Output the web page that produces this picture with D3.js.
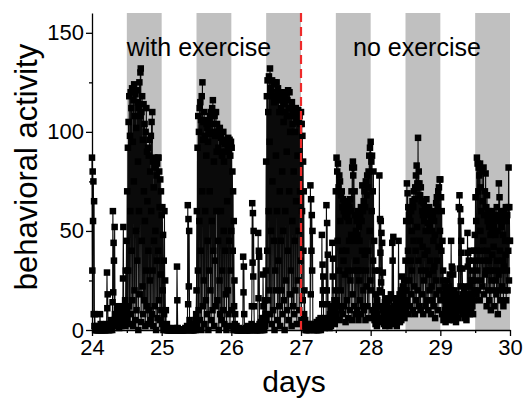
<!DOCTYPE html>
<html>
<head>
<meta charset="utf-8">
<script src="https://cdn.jsdelivr.net/npm/d3@7"></script>
<style>
  body { margin: 0; background: #fff; }
  svg { display: block; font-family: Arial, "Liberation Sans", sans-serif; }
</style>
</head>
<body>
<svg id="chart"></svg>
<script>
// chart size
const width = 523, height = 400;
const margin = { top: 13, right: 13, bottom: 70, left: 92 };

// activity counts, one value every 0.005 day, one array per day
const day24 = [87, 30, 80, 55, 75, 8, 65, 2, 8, 0,
  0, 1, 0, 0, 2, 0, 0, 0, 1, 0,
  0, 0, 1, 8, 0, 3, 0, 0, 0, 1,
  0, 0, 0, 2, 0, 0, 1, 0, 0, 0,
  0, 2, 3, 29, 11, 18, 0, 1, 0, 2,
  0, 3, 1, 0, 2, 5, 1, 3, 0, 14,
  60, 19, 44, 35, 5, 52, 8, 3, 6, 2,
  8, 4, 10, 3, 12, 5, 2, 9, 1, 6,
  10, 3, 7, 12, 2, 8, 4, 11, 3, 26,
  52, 6, 9, 12, 4, 15, 2, 30, 8, 45,
  10, 70, 5, 92, 30, 105, 12, 118, 3, 98,
  60, 120, 8, 112, 40, 122, 15, 95, 2, 116,
  75, 124, 20, 108, 5, 119, 50, 102, 10, 121,
  35, 115, 85, 0, 112, 60, 125, 18, 108, 130,
  132, 4, 110, 45, 118, 22, 96, 8, 114, 70,
  15, 104, 55, 2, 100, 30, 112, 12, 90, 65,
  3, 92, 40, 88, 10, 96, 25, 80, 5, 98,
  60, 105, 8, 110, 30, 85, 2, 72, 45, 87,
  12, 82, 50, 86, 0, 78, 35, 84, 6, 87,
  40, 87, 15, 80, 62, 5, 76, 28, 70, 10];
const day25 = [58, 3, 62, 20, 48, 0, 35, 8, 60, 2,
  25, 0, 10, 1, 0, 3, 0, 0, 1, 0,
  0, 0, 0, 0, 0, 0, 0, 0, 0, 0,
  0, 0, 0, 0, 0, 1, 0, 0, 0, 0,
  0, 0, 0, 0, 32, 15, 1, 0, 0, 0,
  0, 0, 0, 0, 0, 0, 0, 0, 0, 0,
  0, 0, 0, 0, 0, 0, 0, 0, 1, 0,
  0, 0, 0, 2, 0, 63, 13, 56, 22, 50,
  5, 0, 1, 0, 0, 0, 0, 2, 0, 0,
  0, 1, 0, 0, 3, 0, 1, 5, 0, 8,
  20, 60, 2, 92, 30, 108, 10, 100, 55, 112,
  5, 115, 40, 106, 0, 118, 70, 125, 12, 96,
  105, 25, 110, 3, 98, 60, 106, 15, 88, 104,
  8, 102, 45, 95, 0, 105, 30, 99, 70, 108,
  20, 110, 5, 104, 55, 112, 10, 116, 40, 100,
  85, 2, 108, 35, 98, 12, 110, 60, 90, 104,
  15, 100, 45, 92, 0, 98, 25, 102, 8, 90,
  60, 97, 5, 88, 30, 95, 10, 100, 50, 85,
  3, 94, 40, 96, 18, 90, 0, 95, 65, 92,
  20, 97, 8, 90, 45, 96, 2, 88, 30, 95];
const day26 = [50, 92, 10, 80, 40, 70, 0, 55, 12, 25,
  3, 8, 0, 1, 0, 2, 0, 0, 0, 0,
  0, 0, 1, 0, 0, 0, 0, 0, 0, 0,
  0, 0, 0, 0, 37, 19, 32, 8, 0, 0,
  0, 0, 1, 0, 0, 0, 0, 0, 2, 0,
  0, 0, 0, 0, 0, 1, 0, 0, 3, 12,
  64, 34, 59, 27, 50, 12, 1, 0, 0, 0,
  0, 2, 0, 0, 0, 0, 0, 49, 16, 40,
  37, 3, 0, 1, 0, 4, 2, 0, 6, 1,
  0, 28, 12, 3, 0, 6, 15, 2, 8, 30,
  85, 5, 118, 40, 126, 15, 110, 60, 128, 20,
  95, 132, 8, 122, 50, 120, 3, 126, 75, 118,
  10, 124, 45, 115, 0, 125, 30, 118, 88, 20,
  125, 60, 120, 5, 122, 35, 116, 12, 110, 70,
  2, 118, 45, 112, 20, 116, 80, 8, 120, 50,
  105, 15, 114, 0, 110, 60, 118, 25, 108, 90,
  10, 116, 40, 121, 5, 112, 70, 120, 18, 100,
  112, 30, 108, 2, 115, 55, 104, 12, 110, 80,
  8, 108, 45, 100, 20, 112, 65, 105, 3, 110,
  88, 25, 111, 50, 105, 10, 108, 70, 104, 35];
const day27 = [110, 5, 104, 60, 98, 15, 85, 40, 70, 8,
  20, 2, 5, 0, 1, 3, 0, 0, 2, 1,
  0, 3, 1, 0, 2, 0, 1, 73, 18, 66,
  40, 58, 30, 50, 3, 1, 0, 2, 0, 1,
  3, 0, 2, 1, 0, 4, 0, 1, 2, 0,
  1, 5, 0, 3, 1, 2, 6, 0, 2, 3,
  48, 13, 33, 20, 27, 4, 2, 5, 1, 3,
  6, 2, 4, 63, 20, 54, 13, 38, 5, 2,
  3, 6, 1, 8, 4, 10, 2, 7, 5, 12,
  44, 27, 36, 8, 12, 5, 15, 3, 20, 10,
  70, 8, 87, 15, 80, 45, 84, 12, 72, 30,
  78, 5, 75, 55, 20, 68, 10, 70, 40, 62,
  8, 66, 35, 60, 12, 65, 28, 58, 4, 62,
  40, 60, 15, 57, 30, 64, 6, 55, 45, 62,
  10, 66, 25, 60, 48, 70, 5, 82, 18, 85,
  78, 30, 82, 12, 70, 45, 58, 8, 50, 35,
  55, 10, 48, 30, 60, 5, 52, 25, 45, 15,
  58, 30, 62, 8, 55, 40, 73, 12, 60, 20,
  65, 10, 70, 38, 62, 5, 75, 30, 68, 22,
  78, 12, 72, 40, 80, 6, 88, 50, 92, 25];
const day28 = [95, 20, 85, 60, 88, 10, 70, 35, 80, 8,
  45, 5, 30, 12, 3, 18, 6, 10, 2, 15,
  8, 4, 12, 6, 30, 78, 20, 56, 39, 55,
  24, 49, 19, 44, 10, 29, 6, 12, 3, 9,
  5, 14, 2, 8, 16, 4, 10, 3, 12, 6,
  9, 3, 15, 7, 2, 11, 5, 8, 18, 4,
  10, 6, 44, 35, 16, 47, 8, 4, 12, 6,
  3, 9, 14, 5, 11, 2, 8, 16, 6, 10,
  45, 12, 7, 18, 4, 13, 9, 20, 5, 15,
  27, 14, 22, 8, 18, 11, 25, 6, 20, 12,
  35, 10, 55, 20, 74, 15, 69, 40, 62, 8,
  58, 25, 61, 12, 55, 35, 60, 18, 50, 30,
  65, 10, 62, 45, 70, 22, 66, 8, 72, 40,
  78, 15, 83, 52, 74, 20, 97, 35, 80, 12,
  74, 45, 68, 10, 72, 30, 65, 18, 60, 42,
  58, 8, 64, 25, 55, 38, 62, 12, 50, 30,
  66, 15, 60, 40, 54, 10, 58, 28, 62, 20,
  52, 35, 60, 8, 56, 22, 50, 15, 58, 30,
  45, 12, 55, 32, 48, 6, 60, 25, 64, 18,
  67, 35, 62, 10, 70, 42, 72, 20, 76, 50];
const day29 = [76, 15, 67, 40, 60, 8, 45, 25, 30, 5,
  18, 6, 22, 10, 15, 4, 12, 20, 8, 14,
  25, 6, 18, 12, 22, 5, 15, 28, 10, 20,
  12, 45, 20, 32, 8, 31, 14, 28, 5, 18,
  9, 20, 6, 15, 12, 4, 18, 8, 14, 10,
  6, 16, 10, 62, 15, 68, 31, 61, 22, 55,
  45, 39, 12, 31, 18, 8, 15, 10, 20, 6,
  12, 18, 8, 22, 14, 5, 16, 10, 49, 32,
  39, 18, 35, 12, 22, 8, 40, 15, 25, 10,
  18, 30, 12, 25, 8, 35, 15, 40, 20, 48,
  25, 67, 18, 55, 40, 87, 30, 84, 20, 70,
  82, 35, 78, 15, 84, 50, 72, 25, 60, 40,
  80, 22, 65, 45, 82, 18, 58, 35, 70, 28,
  79, 30, 62, 12, 68, 40, 55, 20, 60, 35,
  52, 15, 58, 30, 48, 10, 55, 25, 50, 38,
  60, 20, 55, 42, 52, 12, 58, 30, 48, 25,
  56, 18, 62, 35, 50, 8, 58, 28, 74, 20,
  67, 40, 55, 15, 60, 30, 52, 22, 58, 35,
  48, 12, 55, 32, 60, 20, 45, 38, 62, 15,
  55, 30, 58, 20, 62, 40, 82, 25, 62, 45];
const day30 = [45];

const dayStarts = [24, 25, 26, 27, 28, 29, 30];
const darkStarts = [24.5, 25.5, 26.5, 27.5, 28.5, 29.5];
const switchDay = 27;
const xTicks = [24, 25, 26, 27, 28, 29, 30];
const yTicks = [0, 50, 100, 150];
const yMinor = [25, 75, 125];

const step = 0.005;
const points = [day24, day25, day26, day27, day28, day29, day30]
  .flatMap((vals, d) => vals.map((v, i) => ({ t: dayStarts[d] + i * step, v })));

const svg = d3.select("#chart").attr("width", width).attr("height", height);

const x = d3.scaleLinear().domain([24, 30]).range([margin.left, width - margin.right]);
const y = d3.scaleLinear().domain([0, 160]).range([height - margin.bottom, margin.top]);

// dark phases
svg.append("g").selectAll("rect")
  .data(darkStarts)
  .join("rect")
  .attr("x", d => x(d))
  .attr("y", y(160))
  .attr("width", d => x(d + 0.5) - x(d))
  .attr("height", y(0) - y(160))
  .attr("fill", "#c0c0c0");

// connecting line
const line = d3.line().x(d => x(d.t)).y(d => y(d.v));
svg.append("path")
  .datum(points)
  .attr("d", line)
  .attr("fill", "none")
  .attr("stroke", "#0a0a0a")
  .attr("stroke-width", 1.1);

// square markers
const ms = 6.5;
svg.append("g").selectAll("rect")
  .data(points)
  .join("rect")
  .attr("x", d => x(d.t) - ms / 2)
  .attr("y", d => y(d.v) - ms / 2)
  .attr("width", ms)
  .attr("height", ms)
  .attr("fill", "#000");

// switch from exercise to no exercise
svg.append("line")
  .attr("x1", x(switchDay)).attr("x2", x(switchDay))
  .attr("y1", y(160)).attr("y2", y(0))
  .attr("stroke", "#ee2a2a")
  .attr("stroke-width", 2.2)
  .attr("stroke-dasharray", "9,5");

// axes
svg.append("g")
  .attr("transform", `translate(0,${y(0)})`)
  .call(d3.axisBottom(x).tickValues(xTicks).tickFormat(d3.format("d")).tickSizeInner(6).tickSizeOuter(0).tickPadding(3));
svg.append("g")
  .attr("transform", `translate(0,${y(0)})`)
  .call(d3.axisBottom(x).tickValues(darkStarts).tickFormat("").tickSizeInner(3).tickSizeOuter(0))
  .call(g => g.select(".domain").remove());

svg.append("g")
  .attr("transform", `translate(${margin.left},0)`)
  .call(d3.axisLeft(y).tickValues(yTicks).tickSizeInner(6).tickSizeOuter(0).tickPadding(2));
svg.append("g")
  .attr("transform", `translate(${margin.left},0)`)
  .call(d3.axisLeft(y).tickValues(yMinor).tickFormat("").tickSizeInner(3).tickSizeOuter(0))
  .call(g => g.select(".domain").remove());

svg.selectAll(".domain, .tick line").attr("stroke", "#000").attr("stroke-width", 1.3);
svg.selectAll(".tick text")
  .attr("font-size", 22)
  .attr("fill", "#000")
  .attr("font-family", "Arial, 'Liberation Sans', sans-serif");

// labels
svg.append("text")
  .attr("x", 294).attr("y", 392)
  .attr("text-anchor", "middle")
  .attr("font-size", 30)
  .text("days");

svg.append("text")
  .attr("transform", `translate(37,167) rotate(-90)`)
  .attr("text-anchor", "middle")
  .attr("font-size", 31)
  .text("behavioral activity");

svg.append("text")
  .attr("x", 199).attr("y", 56)
  .attr("text-anchor", "middle")
  .attr("font-size", 25)
  .text("with exercise");

svg.append("text")
  .attr("x", 417).attr("y", 56)
  .attr("text-anchor", "middle")
  .attr("font-size", 25)
  .text("no exercise");
</script>
</body>
</html>
